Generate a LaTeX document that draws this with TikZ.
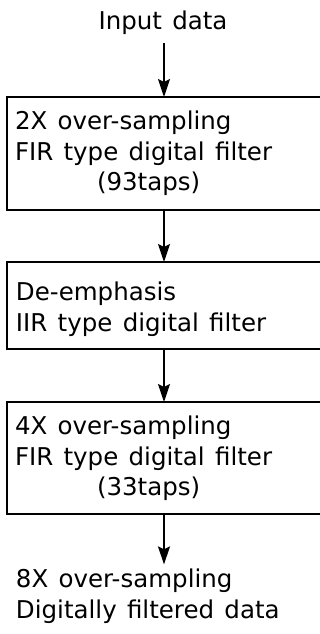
\documentclass[tikz,border=0pt]{standalone}
\usepackage{fontspec}
\setmainfont{DejaVu Sans}
\usetikzlibrary{arrows.meta}
\newcommand\diagfont{\fontsize{24.5}{30}\selectfont\spaceskip=0.42em\relax}
\begin{document}
\begin{tikzpicture}[x=1pt,y=-1pt,
  box/.style={draw,line width=2pt,minimum width=318pt,inner sep=0pt,outer sep=0pt},
  txt/.style={anchor=base west,inner sep=0pt,outer sep=0pt,font=\diagfont},
  arr/.style={line width=1.8pt,-{Stealth[length=18pt,width=12pt,inset=3pt]}}]
\useasboundingbox (0,0) rectangle (320,634);
\clip (0,0) rectangle (320,634);
\coordinate (c) at (164,0);
% title
\node[txt,anchor=base] (in) at (163,30) {Input data};
% boxes
\node[box,minimum height=113pt] (b1) at (166,153.5) {};
\node[box,minimum height=87pt] (b2) at (166,305.5) {};
\node[box,minimum height=112pt] (b3) at (166,458) {};
% box texts
\node[txt] (t1a) at (15,129) {2X over-sampling};
\node[txt] (t1b) at (15,160) {FIR type digital filter};
\node[txt] (t1c) at (97,190) {(93taps)};
\node[txt] (t2a) at (16,300) {De-emphasis};
\node[txt] (t2b) at (16,331) {IIR type digital filter};
\node[txt] (t3a) at (15,434) {4X over-sampling};
\node[txt] (t3b) at (15,465) {FIR type digital filter};
\node[txt] (t3c) at (97,495) {(33taps)};
\node[txt] (o1) at (16,587) {8X over-sampling};
\node[txt] (o2) at (16,618) {Digitally filtered data};
% connectors
\draw[arr,shorten <=8pt] (in.south -| c) -- (b1.north -| c);
\draw[arr] (b1.south -| c) -- (b2.north -| c);
\draw[arr] (b2.south -| c) -- (b3.north -| c);
\draw[arr,shorten >=4pt] (b3.south -| c) -- (o1.north -| c);
\end{tikzpicture}
\end{document}
